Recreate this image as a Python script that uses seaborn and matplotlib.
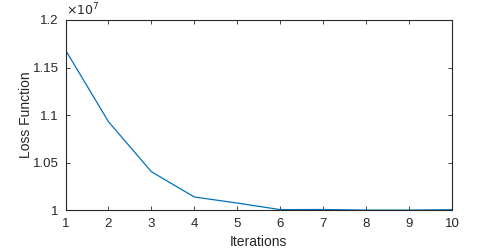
import matplotlib
matplotlib.use("Agg")
import matplotlib.pyplot as plt
import seaborn as sns
import pandas as pd

iterations = [1, 2, 3, 4, 5, 6, 7, 8, 9, 10]
loss = [1.1684e7, 1.0930e7, 1.0403e7, 1.0137e7, 1.0073e7,
        1.0004e7, 1.0005e7, 0.9999e7, 0.9999e7, 1.0003e7]
xticks = [1, 2, 3, 4, 5, 6, 7, 8, 9, 10]
yticks = [1.0e7, 1.05e7, 1.1e7, 1.15e7, 1.2e7]
ytick_labels = ["1", "1.05", "1.1", "1.15", "1.2"]

sns.set_style("ticks")
plt.rcParams['font.family'] = ['Liberation Sans', 'DejaVu Sans']

fig = plt.figure(figsize=(5, 2.5), dpi=100)
ax = fig.add_axes([0.131, 0.16, 0.773, 0.76])
df = pd.DataFrame({"Iterations": iterations, "Loss Function": loss})
sns.lineplot(data=df, x="Iterations", y="Loss Function", ax=ax,
             color="#0072BD", linewidth=0.9)
ax.set_xlim(1, 10)
ax.set_ylim(1.0e7, 1.2e7)
ax.set_xticks(xticks)
ax.set_xticklabels([str(v) for v in xticks])
ax.set_yticks(yticks)
ax.set_yticklabels(ytick_labels)
c = "#262626"
for s in ax.spines.values():
    s.set_visible(True)
    s.set_linewidth(0.8)
    s.set_color(c)
ax.tick_params(direction="in", length=3, width=0.6, top=True, right=True,
               labelsize=9.5, colors=c)
ax.tick_params(axis="x", pad=6)
ax.tick_params(axis="y", pad=5)
ax.set_xlabel("Iterations", fontsize=10, color=c, labelpad=3)
ax.set_ylabel("Loss Function", fontsize=10, color=c, labelpad=0)
ax.text(0.0, 1.01, r"$\times10^{7}$", transform=ax.transAxes,
        fontsize=9, color=c, ha="left", va="bottom")
fig.savefig("out.png", dpi=100)
